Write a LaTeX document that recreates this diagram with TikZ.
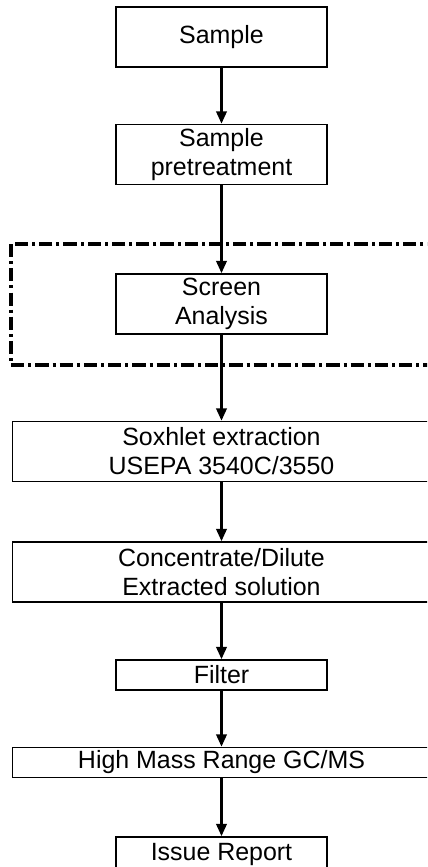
\documentclass[tikz,border=0pt]{standalone}
\usepackage{fontspec}
\setmainfont{Liberation Sans}
\usetikzlibrary{arrows.meta}

\begin{document}
\begin{tikzpicture}[x=0.02cm, y=-0.02cm,
    every node/.style={draw, line width=1pt, align=center, inner sep=0pt,
      font=\fontsize{14.2}{16.5}\selectfont},
    narrow/.style = {minimum width=4.22cm},
    wide/.style = {minimum width=8.36cm},
    tall/.style = {minimum height=1.2cm},
    flat/.style = {minimum height=0.6cm},
    flow/.style = {-{Triangle[length=7pt,width=6pt]}, line width=1.3pt},
    screenframe/.style = {line width=2pt,
      dash pattern=on 7.5pt off 2.3pt on 1.7pt off 2.3pt}]
    \clip (0,0) rectangle (427,867);
    % the steps
    \node[narrow,tall] (sample) at (221.5,37) {Sample};
    \node[narrow,tall] (pretreat) at (221.5,154.5) {Sample\\pretreatment};
    \node[narrow,tall] (screen) at (221.5,304) {Screen\\Analysis};
    \node[wide,tall] (soxhlet) at (221.5,451.5) {Soxhlet extraction\\USEPA 3540C/3550};
    \node[wide,tall] (conc) at (221.5,572) {Concentrate/Dilute\\Extracted solution};
    \node[narrow,flat] (filter) at (221.5,675) {Filter};
    \node[wide,flat] (gcms) at (221.5,762.5) {High Mass Range GC/MS};
    \node[narrow,minimum height=0.68cm] (report) at (221.5,854) {Issue Report};
    % optional screening
    \draw[screenframe] (11,244) rectangle (432,365);
    % arrows
    \draw[flow] (sample) -- (pretreat);
    \draw[flow] (pretreat) -- (screen);
    \draw[flow] (screen) -- (soxhlet);
    \draw[flow] (soxhlet) -- (conc);
    \draw[flow] (conc) -- (filter);
    \draw[flow] (filter) -- (gcms);
    \draw[flow] (gcms) -- (report);
\end{tikzpicture}
\end{document}
